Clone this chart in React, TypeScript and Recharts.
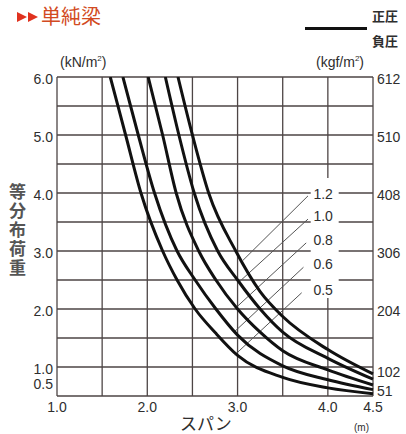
import React from 'react'
import {
  LineChart,
  Line,
  XAxis,
  YAxis,
  CartesianGrid,
  ReferenceLine,
  ReferenceArea,
  ReferenceDot,
} from 'recharts'

// 単純梁 — allowable uniform load vs span, per plate thickness
const thicknesses = ['0.5', '0.6', '0.8', '1.0', '1.2']

const span05 = [1.59, 1.76, 1.93, 2.17, 2.33, 2.53, 2.76, 3.0, 3.5, 4.0, 4.5]
const load05 = [6.0, 5.0, 4.0, 3.0, 2.5, 2.0, 1.58, 1.2, 0.82, 0.64, 0.54]
const span06 = [1.73, 1.9, 2.08, 2.33, 2.53, 2.76, 3.0, 3.5, 4.0, 4.5]
const load06 = [6.0, 5.0, 4.0, 3.0, 2.5, 2.0, 1.55, 1.02, 0.78, 0.61]
const span08 = [2.01, 2.17, 2.32, 2.57, 2.76, 3.0, 3.25, 3.5, 4.0, 4.5]
const load08 = [6.0, 5.0, 4.0, 3.0, 2.5, 2.0, 1.6, 1.28, 0.95, 0.69]
const span10 = [2.2, 2.35, 2.52, 2.78, 3.0, 3.25, 3.5, 4.0, 4.5]
const load10 = [6.0, 5.0, 4.0, 3.0, 2.5, 2.0, 1.6, 1.15, 0.79]
const span12 = [2.34, 2.5, 2.68, 2.98, 3.25, 3.5, 4.0, 4.5]
const load12 = [6.0, 5.0, 4.0, 3.0, 2.3, 1.87, 1.3, 0.88]

const spanTicks = [1.0, 1.5, 2.0, 2.5, 3.0, 3.5, 4.0, 4.5]
const spanLabels = ['1.0', '', '2.0', '', '3.0', '', '4.0', '4.5']
const loadTicks = [0.5, 1.0, 1.5, 2.0, 2.5, 3.0, 3.5, 4.0, 4.5, 5.0, 5.5, 6.0]
const loadLabels = ['0.5', '1.0', '', '2.0', '', '3.0', '', '4.0', '', '5.0', '', '6.0']
const kgfTicks = [51, 102, 204, 306, 408, 510, 612]

const toPoints = (xs: number[], ys: number[]) => xs.map((x, i) => ({ x, y: ys[i] }))
const curves = [
  toPoints(span05, load05),
  toPoints(span06, load06),
  toPoints(span08, load08),
  toPoints(span10, load10),
  toPoints(span12, load12),
]
// invisible series so the kgf axis is bound to something
const kgfAnchor = kgfTicks.map((k) => ({ x: 1, k }))

// leader lines from thickness labels down to each curve
const labelAt = [
  { x: 3.84, y: 2.33 },
  { x: 3.84, y: 2.78 },
  { x: 3.84, y: 3.19 },
  { x: 3.84, y: 3.6 },
  { x: 3.84, y: 3.98 },
]
const leaders = [
  [{ x: 3.71, y: 2.28 }, { x: 2.97, y: 1.21 }],
  [{ x: 3.73, y: 2.72 }, { x: 2.96, y: 1.6 }],
  [{ x: 3.76, y: 3.14 }, { x: 2.98, y: 2.02 }],
  [{ x: 3.78, y: 3.55 }, { x: 3.02, y: 2.47 }],
  [{ x: 3.78, y: 3.95 }, { x: 3.06, y: 2.84 }],
]

const FONT = '"Liberation Sans", Arial, sans-serif'
const CJK = '"Noto Sans CJK JP", sans-serif'
const GRID = '#4d4545'
const INK = '#2e2e2e'

const LeftTick = (props: any) => {
  const { x, y, payload } = props
  const text = loadLabels[loadTicks.indexOf(payload.value)]
  if (!text) return null
  const dy = payload.value === 0.5 ? -12 : 2
  return (
    <text x={x} y={y + dy} textAnchor="end" dominantBaseline="central" fontSize={14} fill={INK} fontFamily={FONT}>
      {text}
    </text>
  )
}

const RightTick = (props: any) => {
  const { x, y, payload } = props
  const dy = payload.value === 51 ? -5 : payload.value === 102 ? 5 : 2
  return (
    <text x={x} y={y + dy} textAnchor="start" dominantBaseline="central" fontSize={14} fill={INK} fontFamily={FONT}>
      {payload.value}
    </text>
  )
}

const BottomTick = (props: any) => {
  const { x, y, payload } = props
  const text = spanLabels[spanTicks.indexOf(payload.value)]
  if (!text) return null
  return (
    <text x={x} y={y + 11} textAnchor="middle" dominantBaseline="central" fontSize={14} fill={INK} fontFamily={FONT}>
      {text}
    </text>
  )
}

const thickLabel = (text: string) => (props: any) => {
  const { viewBox } = props
  return (
    <text x={viewBox.x} y={viewBox.y} dominantBaseline="central" fontSize={14} fill={INK} fontFamily={FONT}>
      {text}
    </text>
  )
}

export default function App() {
  return (
    <div style={{ position: 'absolute', left: 0, top: 0, width: 406, height: 434, background: '#fff' }}>
      <LineChart width={406} height={434} margin={{ top: 77, right: 0, bottom: 0, left: 0 }}>
        <CartesianGrid stroke={GRID} strokeWidth={1.3} />
        <XAxis
          type="number"
          dataKey="x"
          domain={[1, 4.5]}
          ticks={spanTicks}
          interval={0}
          axisLine={false}
          tickLine={false}
          tickSize={0}
          tickMargin={0}
          height={38}
          tick={BottomTick}
        />
        <YAxis
          type="number"
          domain={[0.5, 6]}
          ticks={loadTicks}
          interval={0}
          allowDataOverflow
          axisLine={false}
          tickLine={false}
          tickSize={0}
          tickMargin={4}
          width={57}
          tick={LeftTick}
        />
        <YAxis
          yAxisId="kgf"
          orientation="right"
          type="number"
          domain={[51, 612]}
          ticks={kgfTicks}
          interval={0}
          allowDataOverflow
          axisLine={false}
          tickLine={false}
          tickSize={0}
          tickMargin={4}
          width={33}
          tick={RightTick}
        />
        <Line
          yAxisId="kgf"
          data={kgfAnchor}
          dataKey="k"
          stroke="none"
          dot={false}
          legendType="none"
          isAnimationActive={false}
        />
        <ReferenceArea x1={3.81} x2={4.12} y1={2.19} y2={4.26} fill="#fff" fillOpacity={1} stroke="none" />
        {leaders.map((seg, i) => (
          <ReferenceLine key={'l' + i} segment={seg} stroke="#555" strokeWidth={1} />
        ))}
        {curves.map((pts, i) => (
          <Line
            key={thicknesses[i]}
            data={pts}
            dataKey="y"
            type="monotone"
            stroke="#111"
            strokeWidth={3}
            dot={false}
            isAnimationActive={false}
          />
        ))}
        {labelAt.map((p, i) => (
          <ReferenceDot key={'t' + i} x={p.x} y={p.y} r={0} fill="none" stroke="none" label={thickLabel(thicknesses[i])} />
        ))}
      </LineChart>

      {/* title */}
      <svg style={{ position: 'absolute', left: 16, top: 11 }} width={24} height={12}>
        <polygon points="1,1 11,6 1,11" fill="#e0321f" />
        <polygon points="12,1 22,6 12,11" fill="#e0321f" />
      </svg>
      <div style={{ position: 'absolute', left: 41, top: 3, fontFamily: CJK, color: '#d24a22', fontSize: 20, lineHeight: '26px', whiteSpace: 'nowrap' }}>
        単純梁
      </div>

      {/* legend */}
      <div style={{ position: 'absolute', left: 305, top: 27, width: 62, height: 3, background: '#111' }} />
      <div style={{ position: 'absolute', left: 372, top: 3, fontFamily: CJK, fontSize: 13, lineHeight: '25px', color: INK, fontWeight: 700 }}>
        <div>正圧</div>
        <div>負圧</div>
      </div>

      {/* units */}
      <div style={{ position: 'absolute', left: 60, top: 54, fontFamily: FONT, fontSize: 14, color: INK }}>
        (kN/m<sup style={{ fontSize: 8 }}>2</sup>)
      </div>
      <div style={{ position: 'absolute', left: 316, top: 54, fontFamily: FONT, fontSize: 14, color: INK }}>
        (kgf/m<sup style={{ fontSize: 8 }}>2</sup>)
      </div>

      {/* axis titles */}
      <div
        style={{
          position: 'absolute',
          left: 6,
          top: 183,
          writingMode: 'vertical-rl',
          fontFamily: CJK,
          fontSize: 17,
          lineHeight: '22px',
          letterSpacing: 2,
          color: '#555',
          fontWeight: 700,
        }}
      >
        等分布荷重
      </div>
      <div style={{ position: 'absolute', left: 180, top: 410, fontFamily: CJK, fontSize: 17, color: INK }}>スパン</div>
      <div style={{ position: 'absolute', left: 354, top: 422, fontFamily: FONT, fontSize: 10, color: INK }}>(m)</div>
    </div>
  )
}
